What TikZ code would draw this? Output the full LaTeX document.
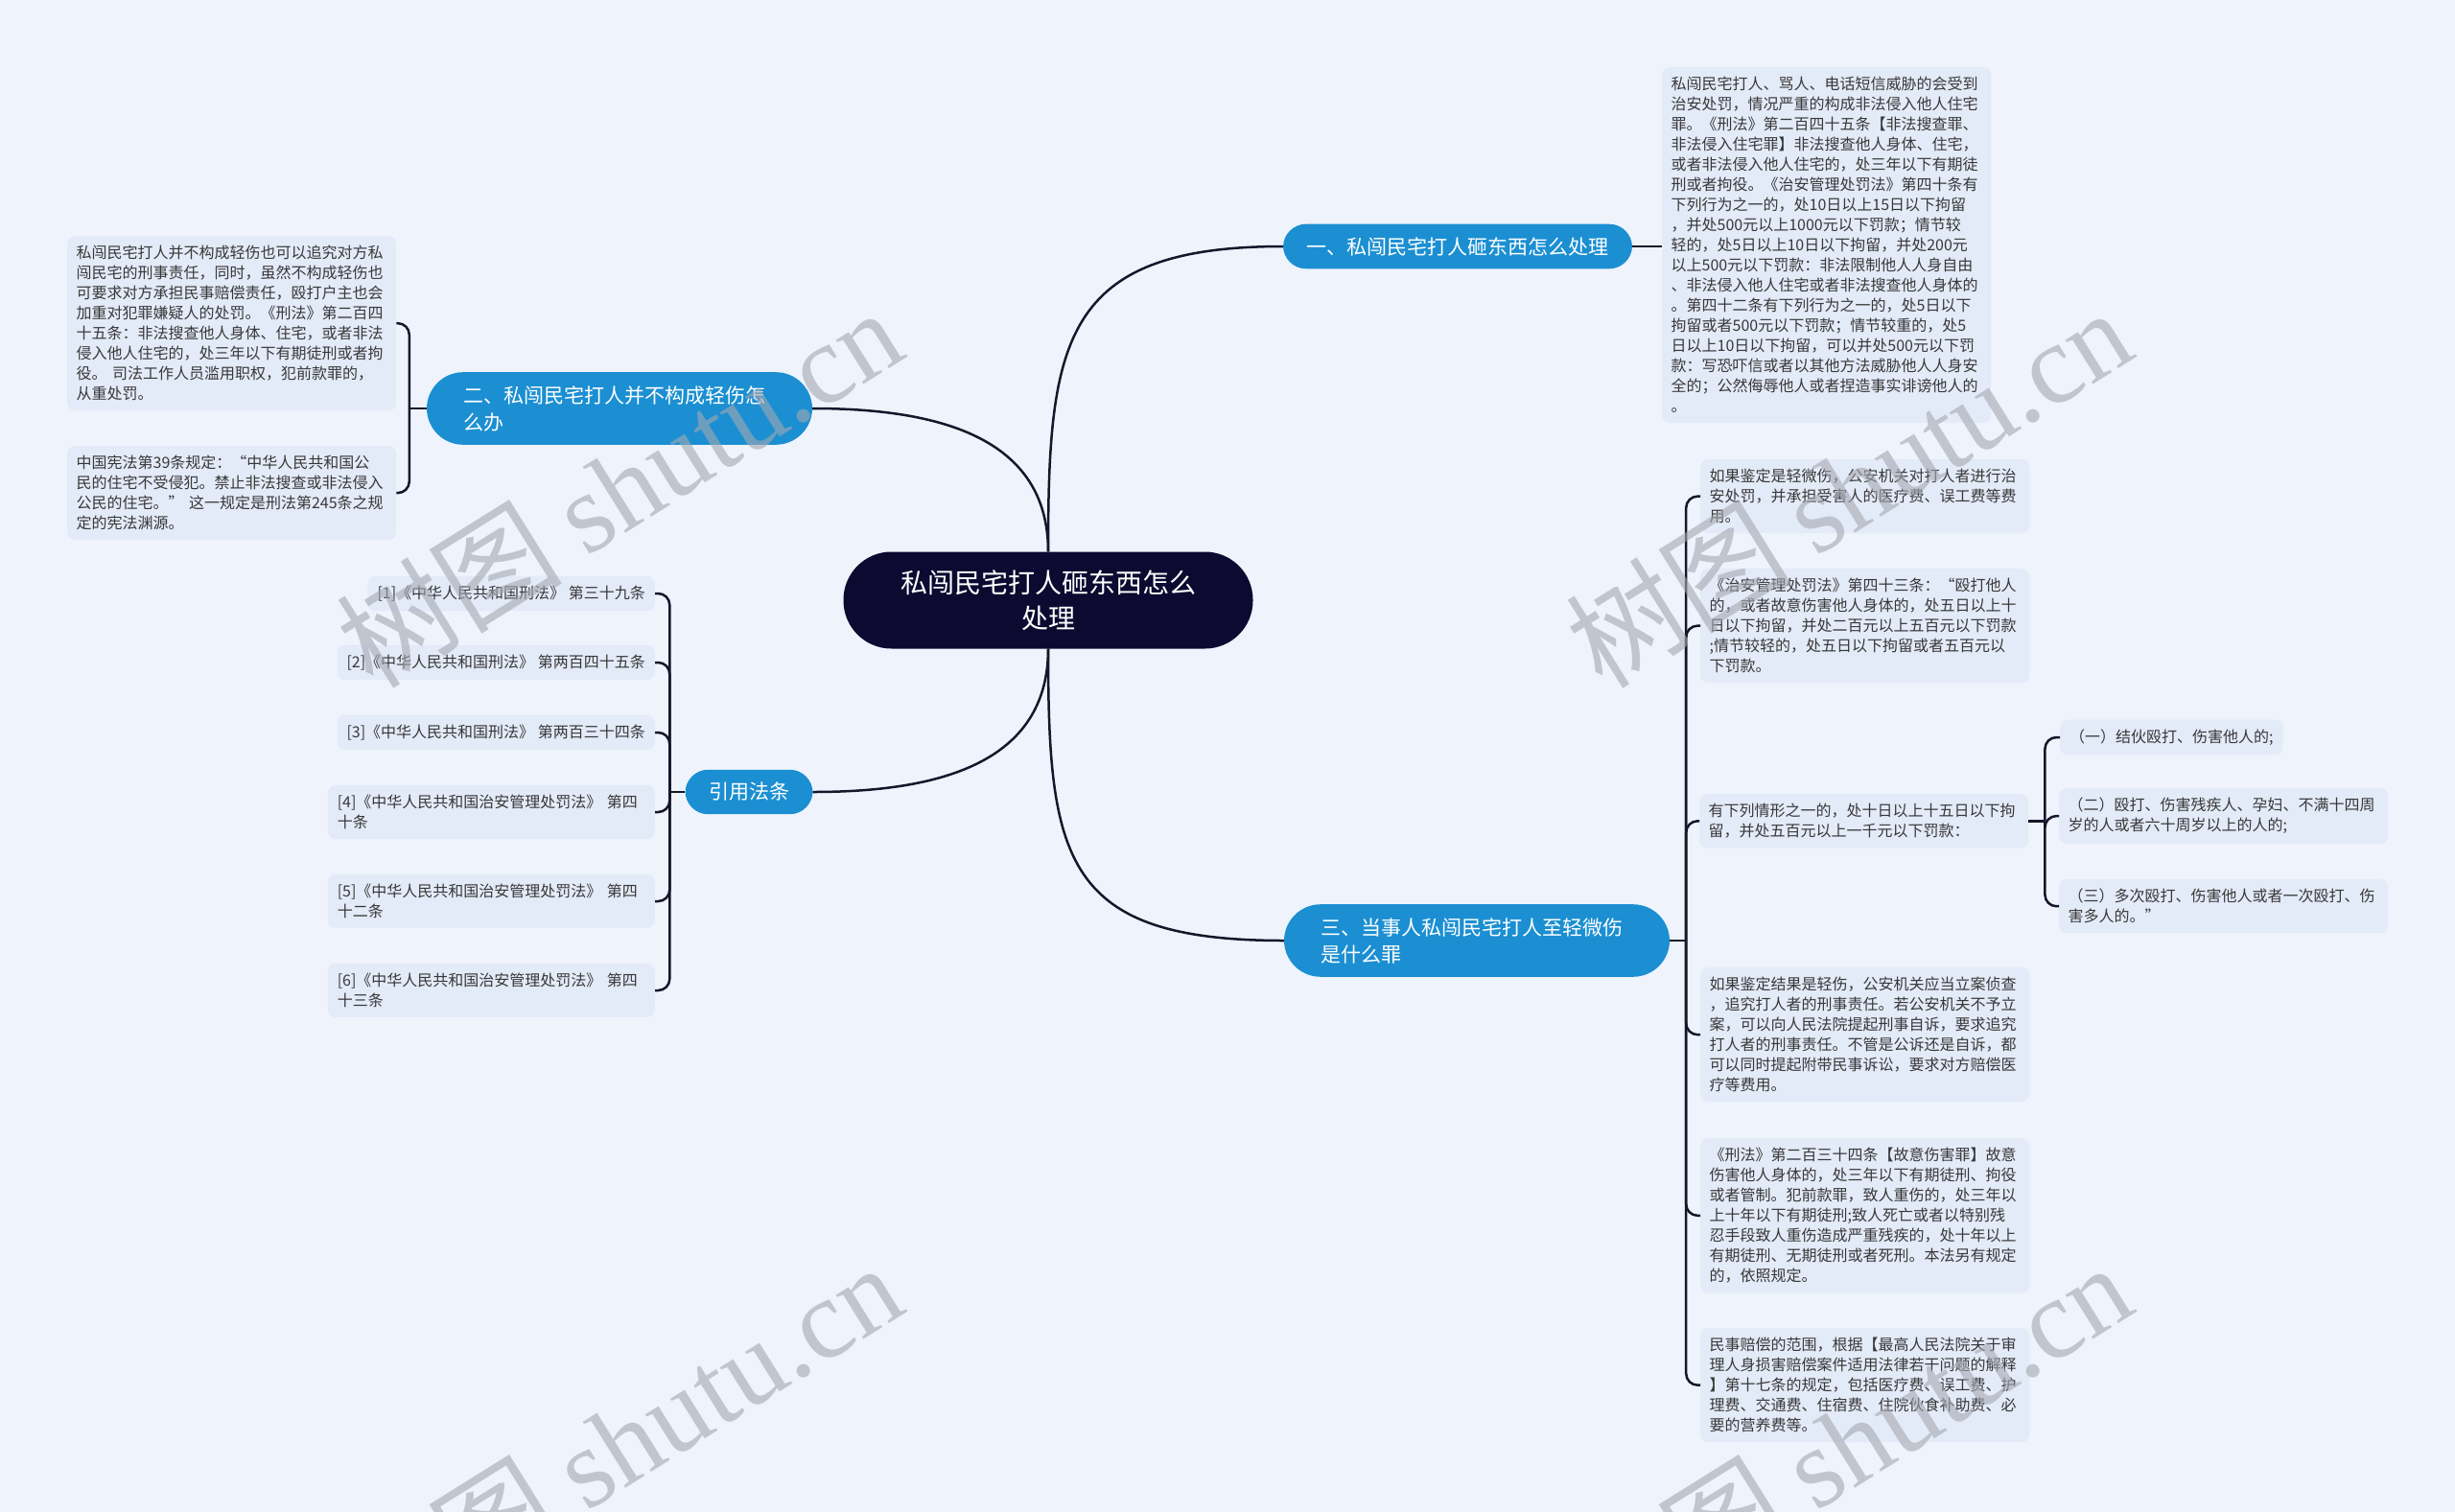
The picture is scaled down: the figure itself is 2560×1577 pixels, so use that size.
\documentclass[tikz,border=0pt]{standalone}
\usepackage{fontspec}
\setmainfont{Noto Sans CJK SC}
\newfontfamily\wmlatin{Liberation Serif}
\usetikzlibrary{positioning}
\definecolor{PageBg}{HTML}{EEF3FC}
\definecolor{RootNavy}{HTML}{0C0A30}
\definecolor{TopicBlue}{HTML}{1B8FD2}
\definecolor{LeafFill}{HTML}{E3EAF8}
\definecolor{LeafText}{HTML}{383838}
\definecolor{LinkInk}{HTML}{16162A}
\definecolor{WaterGray}{HTML}{A4A8B0}
\tikzset{
  mmroot/.style={fill=RootNavy, text=white, rounded corners=50pt, align=center,
                 font=\fontsize{28}{37}\selectfont, minimum width=427pt, minimum height=101pt, inner sep=0pt},
  mmtopic/.style={fill=TopicBlue, text=white, rounded corners=24pt,
                 font=\fontsize{21}{28}\selectfont, inner xsep=24.5pt, inner ysep=13.5pt},
  mmtopicwide/.style={mmtopic, align=left, text width=326pt, inner xsep=38pt, inner ysep=14pt, rounded corners=38pt},
  mmleaf/.style={fill=LeafFill, text=LeafText, rounded corners=8pt, align=left, anchor=north west,
                 font=\fontsize{16}{21}\selectfont, text width=324pt, inner xsep=9.5pt, inner ysep=10pt},
  mmref/.style={fill=LeafFill, text=LeafText, rounded corners=8pt, align=left, anchor=east,
                 font=\fontsize{16}{21}\selectfont, inner xsep=10pt, inner ysep=10pt},
  mmlink/.style={draw=LinkInk, line width=2.5pt},
  mmbrace/.style={mmlink, rounded corners=12pt},
  mmwater/.style={text=WaterGray, text opacity=0.6, rotate=32, font=\fontsize{118}{118}\selectfont}
}

\begin{document}
\begin{tikzpicture}[x=1pt, y=-1pt]
\useasboundingbox[fill=PageBg] (0,0) rectangle (2560,1577);
% root and topics
\node[mmroot] (root) at (1093,626) {私闯民宅打人砸东西怎么\\处理};
\node[mmtopic] (t1) at (1520,257) {一、私闯民宅打人砸东西怎么处理};
\node[mmtopicwide] (t2) at (646,426) {二、私闯民宅打人并不构成轻伤怎\\么办};
\node[mmtopicwide] (t3) at (1540,981) {三、当事人私闯民宅打人至轻微伤\\是什么罪};
\node[mmtopic] (t4) at (781,826) {引用法条};
\draw[mmlink] (root.north) .. controls +(0,-220) and +(-230,0) .. (t1.west);
\draw[mmlink] (root.north) .. controls +(0,-120) and +(130,0) .. (t2.east);
\draw[mmlink] (root.south) .. controls +(0,220) and +(-230,0) .. (t3.west);
\draw[mmlink] (root.south) .. controls +(0,120) and +(130,0) .. (t4.east);
% topic 1
\node[mmleaf] (l1) at (1733,70) {私闯民宅打人、骂人、电话短信威胁的会受到\\治安处罚，情况严重的构成非法侵入他人住宅\\罪。《刑法》第二百四十五条【非法搜查罪、\\非法侵入住宅罪】非法搜查他人身体、住宅，\\或者非法侵入他人住宅的，处三年以下有期徒\\刑或者拘役。《治安管理处罚法》第四十条有\\下列行为之一的，处10日以上15日以下拘留\\，并处500元以上1000元以下罚款；情节较\\轻的，处5日以上10日以下拘留，并处200元\\以上500元以下罚款：非法限制他人人身自由\\、非法侵入他人住宅或者非法搜查他人身体的\\。第四十二条有下列行为之一的，处5日以下\\拘留或者500元以下罚款；情节较重的，处5\\日以上10日以下拘留，可以并处500元以下罚\\款：写恐吓信或者以其他方法威胁他人人身安\\全的；公然侮辱他人或者捏造事实诽谤他人的\\。};
\draw[mmlink] (t1.east) -- (t1.east -| l1.west);
% topic 2
\node[mmleaf] (l2a) at (70,246) {私闯民宅打人并不构成轻伤也可以追究对方私\\闯民宅的刑事责任，同时，虽然不构成轻伤也\\可要求对方承担民事赔偿责任，殴打户主也会\\加重对犯罪嫌疑人的处罚。《刑法》第二百四\\十五条：非法搜查他人身体、住宅，或者非法\\侵入他人住宅的，处三年以下有期徒刑或者拘\\役。 司法工作人员滥用职权，犯前款罪的，\\从重处罚。};
\node[mmleaf] (l2b) at (70,465) {中国宪法第39条规定：“中华人民共和国公\\民的住宅不受侵犯。禁止非法搜查或非法侵入\\公民的住宅。” 这一规定是刑法第245条之规\\定的宪法渊源。};
\draw[mmlink] (t2.west) -- ++(-18,0) coordinate (t2j);
\draw[mmbrace] (t2j) |- (l2a.east);
\draw[mmbrace] (t2j) |- (l2b.east);
% topic 4
\node[mmref] (r1) at (683,619) {[1]《中华人民共和国刑法》 第三十九条};
\node[mmref] (r2) at (683,691) {[2]《中华人民共和国刑法》 第两百四十五条};
\node[mmref] (r3) at (683,764) {[3]《中华人民共和国刑法》 第两百三十四条};
\node[mmref, text width=321pt] (r4) at (683,847) {[4]《中华人民共和国治安管理处罚法》 第四\\十条};
\node[mmref, text width=321pt] (r5) at (683,940) {[5]《中华人民共和国治安管理处罚法》 第四\\十二条};
\node[mmref, text width=321pt] (r6) at (683,1033) {[6]《中华人民共和国治安管理处罚法》 第四\\十三条};
\draw[mmlink] (t4.west) -- ++(-16,0) coordinate (t4j);
\foreach \i in {1,...,6}
  \draw[mmbrace] (t4j) |- (r\i.east);
% topic 3
\node[mmleaf] (l3a) at (1773,479) {如果鉴定是轻微伤，公安机关对打人者进行治\\安处罚，并承担受害人的医疗费、误工费等费\\用。};
\node[mmleaf] (l3b) at (1773,593) {《治安管理处罚法》第四十三条：“殴打他人\\的，或者故意伤害他人身体的，处五日以上十\\日以下拘留，并处二百元以上五百元以下罚款\\;情节较轻的，处五日以下拘留或者五百元以\\下罚款。};
\node[mmleaf] (l3c) at (1772,828) {有下列情形之一的，处十日以上十五日以下拘\\留，并处五百元以上一千元以下罚款：};
\node[mmleaf] (l3d) at (1773,1009) {如果鉴定结果是轻伤，公安机关应当立案侦查\\，追究打人者的刑事责任。若公安机关不予立\\案，可以向人民法院提起刑事自诉，要求追究\\打人者的刑事责任。不管是公诉还是自诉，都\\可以同时提起附带民事诉讼，要求对方赔偿医\\疗等费用。};
\node[mmleaf] (l3e) at (1773,1187) {《刑法》第二百三十四条【故意伤害罪】故意\\伤害他人身体的，处三年以下有期徒刑、拘役\\或者管制。犯前款罪，致人重伤的，处三年以\\上十年以下有期徒刑;致人死亡或者以特别残\\忍手段致人重伤造成严重残疾的，处十年以上\\有期徒刑、无期徒刑或者死刑。本法另有规定\\的，依照规定。};
\node[mmleaf] (l3f) at (1773,1385) {民事赔偿的范围，根据【最高人民法院关于审\\理人身损害赔偿案件适用法律若干问题的解释\\】第十七条的规定，包括医疗费、误工费、护\\理费、交通费、住宿费、住院伙食补助费、必\\要的营养费等。};
\draw[mmlink] (t3.east) -- ++(17,0) coordinate (t3j);
\foreach \l in {a,...,f}
  \draw[mmbrace] (t3j) |- (l3\l.west);
\node[mmref, anchor=west] (s1) at (2148,769) {（一）结伙殴打、伤害他人的;};
\node[mmleaf] (s2) at (2147,822) {（二）殴打、伤害残疾人、孕妇、不满十四周\\岁的人或者六十周岁以上的人的;};
\node[mmleaf] (s3) at (2147,917) {（三）多次殴打、伤害他人或者一次殴打、伤\\害多人的。”};
\draw[mmlink] (l3c.east) -- ++(17,0) coordinate (l3cj);
\foreach \s in {s1,s2,s3}
  \draw[mmbrace] (l3cj) |- (\s.west);
% watermark
\node[mmwater] (wm1) at (645,508) {树图 {\wmlatin shutu.cn}};
\node[mmwater] (wm2) at (1927,508) {树图 {\wmlatin shutu.cn}};
\node[mmwater] (wm3) at (645,1504) {树图 {\wmlatin shutu.cn}};
\node[mmwater] (wm4) at (1927,1504) {树图 {\wmlatin shutu.cn}};
\end{tikzpicture}
\end{document}
